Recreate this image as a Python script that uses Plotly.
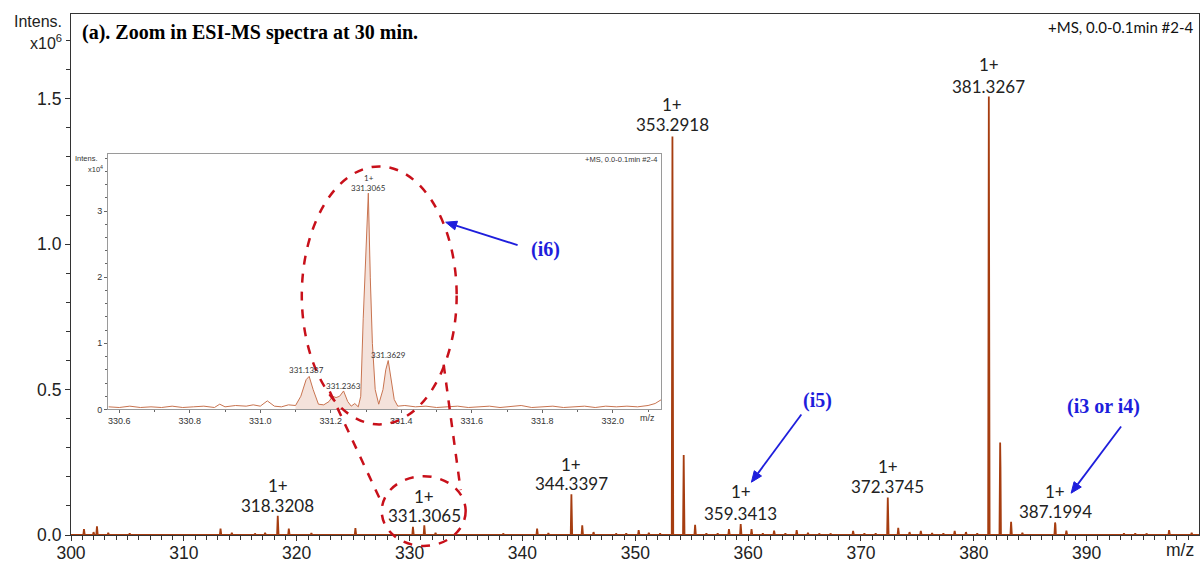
import math
import plotly.graph_objects as go

# ---------------- data (main spectrum, intensities in x10^6) ----------------
peak_mz = [301.15, 302.0, 302.3, 303.3, 305.2, 313.25, 314.25, 316.3, 317.2, 318.3208,
           319.3, 321.3, 325.2, 330.3, 331.3065, 332.3, 338.3, 341.3, 342.3, 344.3397,
           345.3, 346.3, 348.3, 349.2, 350.3, 351.2, 352.2, 353.2918, 354.29, 355.3,
           356.3, 357.3, 358.3, 359.3413, 360.3, 361.3, 362.3, 363.3, 364.3, 365.3,
           366.3, 367.3, 369.3, 370.3, 371.3, 372.3745, 373.3, 374.3, 375.3, 376.3,
           377.3, 378.3, 379.3, 380.3, 381.3267, 382.33, 383.3, 384.3, 387.1994, 388.2,
           393.3, 394.3, 395.3, 397.3, 399.3]
peak_int = [0.020, 0.010, 0.030, 0.008, 0.006, 0.022, 0.008, 0.005, 0.008, 0.066,
            0.022, 0.007, 0.024, 0.028, 0.033, 0.008, 0.005, 0.022, 0.007, 0.140,
            0.033, 0.010, 0.005, 0.006, 0.017, 0.008, 0.006, 1.370, 0.275, 0.035,
            0.006, 0.006, 0.020, 0.038, 0.020, 0.006, 0.015, 0.006, 0.017, 0.008,
            0.005, 0.005, 0.014, 0.006, 0.006, 0.129, 0.025, 0.010, 0.014, 0.007,
            0.006, 0.014, 0.010, 0.006, 1.507, 0.318, 0.045, 0.008, 0.043, 0.015,
            0.006, 0.006, 0.005, 0.017, 0.008]
# profile shoulders (second sampled point) of the larger peaks
shoulder_mz = [353.2918, 354.29, 381.3267, 382.33, 387.1994]
shoulder_int = [0.81, 0.12, 1.13, 0.236, 0.035]

# labelled peaks
label_mz = [318.3208, 331.3065, 344.3397, 353.2918, 359.3413, 372.3745, 381.3267, 387.1994]
label_charge = ["1+", "1+", "1+", "1+", "1+", "1+", "1+", "1+"]

# ---------------- data (inset, intensities in x10^4) ----------------
inset_mz = [330.57, 330.60, 330.63, 330.66, 330.69, 330.72, 330.75, 330.78, 330.81, 330.84,
            330.87, 330.885, 330.90, 330.93, 330.96, 330.98, 331.00, 331.02, 331.04, 331.06,
            331.08, 331.10, 331.115, 331.13, 331.1387, 331.15, 331.165, 331.18, 331.195, 331.205,
            331.215, 331.225, 331.2363, 331.248, 331.258, 331.268, 331.278, 331.285, 331.292, 331.300,
            331.3065, 331.312, 331.318, 331.326, 331.336, 331.348, 331.356, 331.3629, 331.370, 331.380,
            331.39, 331.41, 331.44, 331.47, 331.50, 331.53, 331.56, 331.59, 331.62, 331.65,
            331.68, 331.71, 331.74, 331.77, 331.80, 331.83, 331.86, 331.89, 331.92, 331.95,
            331.98, 332.01, 332.04, 332.07, 332.10, 332.12, 332.138]
inset_int = [0.04, 0.03, 0.05, 0.03, 0.04, 0.03, 0.05, 0.03, 0.04, 0.05,
             0.03, 0.08, 0.04, 0.06, 0.05, 0.07, 0.05, 0.13, 0.05, 0.04,
             0.07, 0.06, 0.20, 0.45, 0.50, 0.30, 0.08, 0.07, 0.12, 0.20,
             0.18, 0.20, 0.28, 0.12, 0.05, 0.09, 0.04, 0.20, 1.37, 2.40,
             3.27, 2.00, 1.00, 0.30, 0.08, 0.30, 0.60, 0.74, 0.50, 0.15,
             0.05, 0.06, 0.04, 0.05, 0.03, 0.04, 0.05, 0.03, 0.04, 0.05,
             0.03, 0.04, 0.06, 0.03, 0.04, 0.05, 0.03, 0.04, 0.05, 0.03,
             0.05, 0.04, 0.05, 0.04, 0.06, 0.09, 0.15]
inset_label_text = ["331.1387", "331.2363", "331.3065", "331.3629"]

x_ticks = [300, 310, 320, 330, 340, 350, 360, 370, 380, 390]
y_ticks = [0.0, 0.5, 1.0, 1.5]
inset_x_ticks = [330.6, 330.8, 331.0, 331.2, 331.4, 331.6, 331.8, 332.0]
inset_y_ticks = [0, 1, 2, 3]

# ---------------- build stick/profile spectrum ----------------
sh = dict(zip(shoulder_mz, shoulder_int))
xs, ys = [300.0], [0.0]
for m, h in zip(peak_mz, peak_int):
    xs += [m - 0.06, m]
    ys += [0.0, h]
    if m in sh:
        xs += [m + 0.03]
        ys += [sh[m]]
    xs += [m + 0.07]
    ys += [0.0]
xs.append(400.0)
ys.append(0.0)

# geometry helpers (plot area: x 71..1200 px, y 14..537 px)
L, R, T, B = 71, 1200, 14, 537
def px(x):
    return (x - L) / (R - L)
def py(y):
    return (B - y) / (B - T)

SPEC = "#A63D10"
fig = go.Figure()
fig.add_trace(go.Scatter(x=xs, y=ys, mode="lines", line=dict(color=SPEC, width=1.8),
                         hoverinfo="skip", showlegend=False))

# inset traces
fill_x = [m for m in inset_mz if 331.10 <= m <= 331.40]
fill_y = [v for m, v in zip(inset_mz, inset_int) if 331.10 <= m <= 331.40]
fig.add_trace(go.Scatter(x=fill_x, y=fill_y, mode="lines", line=dict(width=0),
                         fill="tozeroy", fillcolor="rgba(225,180,160,0.38)",
                         xaxis="x2", yaxis="y2", hoverinfo="skip", showlegend=False))
fig.add_trace(go.Scatter(x=inset_mz, y=inset_int, mode="lines",
                         line=dict(color="#C8734F", width=1),
                         xaxis="x2", yaxis="y2", hoverinfo="skip", showlegend=False))

AX = "#333333"
tickfont = dict(family="Liberation Sans, Arial", size=17.5, color="#222222")
fig.update_layout(
    width=1203, height=566,
    margin=dict(l=L, r=1203 - R, t=T, b=566 - B),
    paper_bgcolor="white", plot_bgcolor="white",
    xaxis=dict(range=[300, 399.95], tickvals=x_ticks, showgrid=False, zeroline=False,
               showline=True, mirror=True, linecolor=AX, linewidth=1.2,
               ticks="outside", ticklen=5, tickcolor=AX, tickfont=tickfont,
               ticklabelstandoff=-3,
               minor=dict(ticks="outside", dtick=1, ticklen=4, tickcolor=AX)),
    yaxis=dict(range=[0, 1.791], tickvals=y_ticks, tickformat=".1f", showgrid=False,
               zeroline=False, showline=True, mirror=True, linecolor=AX, linewidth=1.2,
               ticks="outside", ticklen=5, tickcolor=AX, tickfont=tickfont,
               minor=dict(ticks="outside", dtick=0.1, ticklen=4, tickcolor=AX)),
    xaxis2=dict(domain=[px(108), px(662)], anchor="y2", range=[330.568, 332.138],
                tickvals=inset_x_ticks, tickformat=".1f", showgrid=False, zeroline=False,
                showline=True, mirror=True, linecolor="#9a9a9a", linewidth=1,
                ticks="outside", ticklen=3, tickcolor="#666",
                tickfont=dict(family="Liberation Sans, Arial", size=9, color="#333"),
                minor=dict(ticks="outside", dtick=0.1, ticklen=2, tickcolor="#666")),
    yaxis2=dict(domain=[py(411), py(155)], anchor="x2", range=[0, 3.855],
                tickvals=inset_y_ticks, showgrid=False, zeroline=False,
                showline=True, mirror=True, linecolor="#9a9a9a", linewidth=1,
                ticks="outside", ticklen=3, tickcolor="#666",
                tickfont=dict(family="Liberation Sans, Arial", size=9, color="#333"),
                minor=dict(ticks="outside", dtick=0.2, ticklen=2, tickcolor="#666")),
)

ann = []
def text(x, y, s, size, family="Lato", color="#222", xanchor="center", xref="paper", bold=False):
    ann.append(dict(x=x, y=y, xref=xref, yref="paper", text=("<b>%s</b>" % s) if bold else s,
                    showarrow=False, xanchor=xanchor, yanchor="middle",
                    font=dict(family=family, size=size, color=color)))

# axis header texts
text(px(64), py(22), "Intens.", 16, family="Liberation Sans, Arial", xanchor="right")
text(px(64), py(42), "x10<sup>6</sup>", 16, family="Liberation Sans, Arial", xanchor="right")
text(px(80), py(33), "(a). Zoom in ESI-MS spectra at 30 min.", 20,
     family="Liberation Serif, Times New Roman", color="#000", xanchor="left", bold=True)
text(px(1197), py(27), "+MS, 0.0-0.1min #2-4", 15, xanchor="right", color="#111")
text(px(1181), py(552), "m/z", 17.5, family="Liberation Sans, Arial")

# peak labels
label_y = [(487, 507), (498, 517.5), (466, 485), (105, 125), (493, 515),
           (468, 488), (65, 87), (493, 513)]
for m, c, (y1, y2) in zip(label_mz, label_charge, label_y):
    text(m, py(y1), c, 17, xref="x")
    text(m, py(y2), "%.4f" % m, 17, xref="x")

# inset texts
text(px(100), py(159), "Intens.", 7.5, family="Liberation Sans, Arial", xanchor="right", color="#333")
text(px(105), py(170), "x10<sup>4</sup>", 7.5, family="Liberation Sans, Arial", xanchor="right", color="#333")
text(px(660), py(160), "+MS, 0.0-0.1min #2-4", 7.5, family="Liberation Sans, Arial", xanchor="right", color="#333")
text(px(648), py(420), "m/z", 9, family="Liberation Sans, Arial", color="#333")
inset_label_pos = [(306.7, 371.7), (344, 387.3), (369, 189), (388.3, 356)]
for s, (xp, yp) in zip(inset_label_text, inset_label_pos):
    text(px(xp), py(yp), s, 8, color="#333")
text(px(369), py(178.3), "1+", 8, color="#333")

# blue labels
BLUE = "#1E1EDC"
for s, xp, yp in [("(i6)", 546, 250), ("(i5)", 818, 402), ("(i3 or i4)", 1104, 408)]:
    text(px(xp), py(yp), s, 20, family="Liberation Serif, Times New Roman", color=BLUE, bold=True)

fig.update_layout(annotations=ann)

# red dashed zoom markers
RED = "#C8101A"
shapes = [
    dict(type="circle", xref="paper", yref="paper", x0=px(302), x1=px(457), y0=py(426), y1=py(167),
         line=dict(color=RED, width=2.5, dash="dash")),
    dict(type="circle", xref="paper", yref="paper", x0=px(382), x1=px(466), y0=py(548), y1=py(478),
         line=dict(color=RED, width=2.5, dash="dash")),
    dict(type="line", xref="paper", yref="paper", x0=px(330), y0=py(393), x1=px(383), y1=py(507),
         line=dict(color=RED, width=2.5, dash="dash")),
    dict(type="line", xref="paper", yref="paper", x0=px(444), y0=py(366), x1=px(461), y1=py(492),
         line=dict(color=RED, width=2.5, dash="dash")),
]

# blue arrows: shaft + filled triangular head (pixel geometry -> paper coords)
for (hx, hy, tx, ty) in [(446, 223, 518, 246), (752, 484, 802, 416), (1072, 495, 1122, 428)]:
    d = math.hypot(tx - hx, ty - hy)
    ux, uy = (tx - hx) / d, (ty - hy) / d
    hl, hw = 11, 4.5
    bx, by = hx + ux * hl, hy + uy * hl
    shapes.append(dict(type="line", xref="paper", yref="paper",
                       x0=px(tx), y0=py(ty), x1=px(bx), y1=py(by),
                       line=dict(color=BLUE, width=1.8)))
    p1 = (bx - uy * hw, by + ux * hw)
    p2 = (bx + uy * hw, by - ux * hw)
    path = "M %f %f L %f %f L %f %f Z" % (px(hx), py(hy), px(p1[0]), py(p1[1]), px(p2[0]), py(p2[1]))
    shapes.append(dict(type="path", xref="paper", yref="paper", path=path,
                       fillcolor=BLUE, line=dict(color=BLUE, width=1)))
fig.update_layout(shapes=shapes)

fig.write_html("out.html", config={"displayModeBar": False},
               post_script="document.body.style.margin='0px';document.body.style.overflow='hidden';")
